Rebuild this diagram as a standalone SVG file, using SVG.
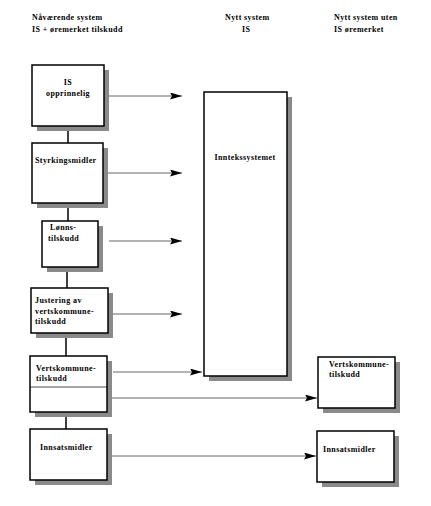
<svg xmlns="http://www.w3.org/2000/svg" width="431" height="506" viewBox="0 0 431 506">
<defs>
<marker id="ah" viewBox="0 0 12 7" refX="12" refY="3.5" markerWidth="12" markerHeight="7" markerUnits="userSpaceOnUse" orient="auto">
<path d="M0,0 L12,3.5 L0,7 L2,3.5 Z" fill="#000"/>
</marker>
</defs>
<style>
text{font-family:"Liberation Serif","Times New Roman",serif;font-weight:bold;font-size:8px;letter-spacing:0.4px;fill:#000}
.box{fill:#fff;stroke:#000;stroke-width:1.5}
.sh{fill:#8a8a8a}
.arr{stroke:#555;stroke-width:0.9;fill:none}
.ln{stroke:#000;stroke-width:1.5;fill:none}
.mid{text-anchor:middle}
</style>
<rect width="431" height="506" fill="#fff"/>
<g id="headers">
<text x="32" y="20">Nåværende system</text>
<text x="32" y="32">IS + øremerket tilskudd</text>
<text x="225" y="20">Nytt system</text>
<text x="242" y="32">IS</text>
<text x="334" y="20">Nytt system uten</text>
<text x="334" y="32">IS øremerket</text>
</g>
<g id="connectors">
<line class="ln" x1="68" y1="126" x2="68" y2="143"/>
<line class="ln" x1="68" y1="203" x2="68" y2="221"/>
<line class="ln" x1="67" y1="267" x2="67" y2="288"/>
<line class="ln" x1="66" y1="333" x2="66" y2="356"/>
<line class="ln" x1="66" y1="412" x2="66" y2="429"/>
<line class="arr" x1="104" y1="96" x2="182" y2="96" marker-end="url(#ah)"/>
<line class="arr" x1="103" y1="173" x2="182" y2="173" marker-end="url(#ah)"/>
<line class="arr" x1="109" y1="241" x2="182" y2="241" marker-end="url(#ah)"/>
<line class="arr" x1="108" y1="314" x2="182" y2="314" marker-end="url(#ah)"/>
<line class="arr" x1="113" y1="372" x2="202" y2="372" marker-end="url(#ah)"/>
<line class="arr" x1="107" y1="398" x2="317" y2="398" marker-end="url(#ah)"/>
<line class="arr" x1="109" y1="456" x2="316" y2="456" marker-end="url(#ah)"/>
</g>
<g id="is-opprinnelig">
<rect class="sh" x="37" y="70" width="72" height="61"/>
<rect class="box" x="32" y="65" width="72" height="61"/>
<text class="mid" x="68" y="85">IS</text>
<text class="mid" x="68" y="96">opprinnelig</text>
</g>
<g id="styrkingsmidler">
<rect class="sh" x="37" y="148" width="71" height="60"/>
<rect class="box" x="32" y="143" width="71" height="60"/>
<text x="35" y="163">Styrkingsmidler</text>
</g>
<g id="lonnstilskudd">
<rect class="sh" x="47" y="226" width="56" height="46"/>
<rect class="box" x="42" y="221" width="56" height="46"/>
<text x="50" y="230">Lønns-</text>
<text x="48" y="241">tilskudd</text>
</g>
<g id="justering">
<rect class="sh" x="36" y="293" width="77" height="45"/>
<rect class="box" x="31" y="288" width="77" height="45"/>
<text x="35" y="303">Justering av</text>
<text x="35" y="314">vertskommune-</text>
<text x="35" y="324">tilskudd</text>
</g>
<g id="vertskommune-left">
<rect class="sh" x="35" y="361" width="77" height="56"/>
<rect class="box" x="30" y="356" width="77" height="56"/>
<line x1="30" y1="387" x2="107" y2="387" stroke="#000" stroke-width="0.7"/>
<text x="36" y="371">Vertskommune-</text>
<text x="36" y="381">tilskudd</text>
</g>
<g id="innsatsmidler-left">
<rect class="sh" x="35" y="434" width="77" height="51"/>
<rect class="box" x="30" y="429" width="77" height="51"/>
<text x="40" y="450">Innsatsmidler</text>
</g>
<g id="inntekssystemet">
<rect class="sh" x="209" y="97" width="83" height="284"/>
<rect class="box" x="204" y="92" width="83" height="284"/>
<text class="mid" x="245" y="160">Inntekssystemet</text>
</g>
<g id="vertskommune-right">
<rect class="sh" x="323" y="362" width="77" height="51"/>
<rect class="box" x="318" y="357" width="77" height="51"/>
<text x="329" y="367">Vertskommune-</text>
<text x="329" y="377">tilskudd</text>
</g>
<g id="innsatsmidler-right">
<rect class="sh" x="322" y="436" width="77" height="51"/>
<rect class="box" x="317" y="431" width="77" height="51"/>
<text x="323" y="452">Innsatsmidler</text>
</g>
</svg>
